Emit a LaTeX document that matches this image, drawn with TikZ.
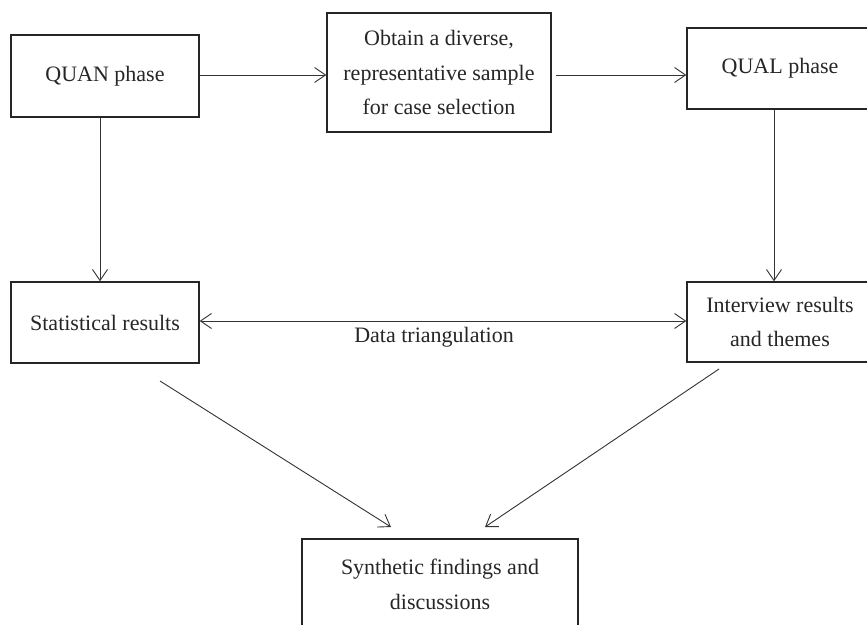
\documentclass[tikz,border=0pt]{standalone}
\usepackage{fontspec}
\setmainfont{Liberation Serif}
\usetikzlibrary{arrows.meta,calc}
\tikzset{
  box/.style={draw=black!85, line width=1.4pt, align=center, inner sep=0pt,
    font=\fontsize{22}{34.5}\selectfont, text=black!85},
  conn/.style={draw=black!80, line width=0.9pt,
    -{Straight Barb[length=11pt,width=15pt,line width=0.9pt]}},
  dconn/.style={draw=black!80, line width=0.9pt,
    {Straight Barb[length=11pt,width=15pt,line width=0.9pt]}-{Straight Barb[length=11pt,width=15pt,line width=0.9pt]}},
  lab/.style={font=\fontsize{22}{34.5}\selectfont, text=black!85, inner sep=0pt}
}
\begin{document}
\begin{tikzpicture}[x=1pt,y=1pt]
\useasboundingbox (0,0) rectangle (867,624);
\clip (0,0) rectangle (867,624);
\fill[white] (0,0) rectangle (867,624);
% boxes (y = 624 - pixel y)
\node[box, minimum width=188, minimum height=82] (quan) at (105,548) {QUAN phase};
\node[box, minimum width=224, minimum height=119] (obt) at (439,551.5) {Obtain a diverse,\\representative sample\\for case selection};
\node[box, minimum width=186, minimum height=81] (qual) at (780,555.5) {QUAL phase};
\node[box, minimum width=188, minimum height=81] (stat) at (105,301.5) {Statistical results};
\node[box, minimum width=186, minimum height=80] (intv) at (780,302) {Interview results\\and themes};
\node[box, minimum width=276, minimum height=91] (syn) at (440,39.5) {Synthetic findings and\\discussions};
% label
\node[lab] (tri) at (434,287) {Data triangulation};
% free ends of diagonal connectors
\coordinate (d1s) at (160,243);
\coordinate (d1e) at (391,97);
\coordinate (d2s) at (719,255);
\coordinate (d2e) at (485,97);
% connectors
\draw[conn] ($(quan.east)+(0,1)$) -- ($(quan.east -| obt.west)+(0,1)$);
\draw[conn] ($(quan.east -| obt.east)+(4,1)$) -- ($(quan.east -| qual.west)+(0,1)$);
\draw[conn] ([xshift=-5pt]quan.south) -- ([xshift=-5pt]quan.south |- stat.north);
\draw[conn] ([xshift=-6pt]qual.south) -- ([xshift=-6pt]qual.south |- intv.north);
\draw[dconn] ($(stat.east)+(0,1.5)$) -- ($(stat.east -| intv.west)+(0,1.5)$);
\draw[conn] (d1s) -- (d1e);
\draw[conn] (d2s) -- (d2e);
\end{tikzpicture}
\end{document}
